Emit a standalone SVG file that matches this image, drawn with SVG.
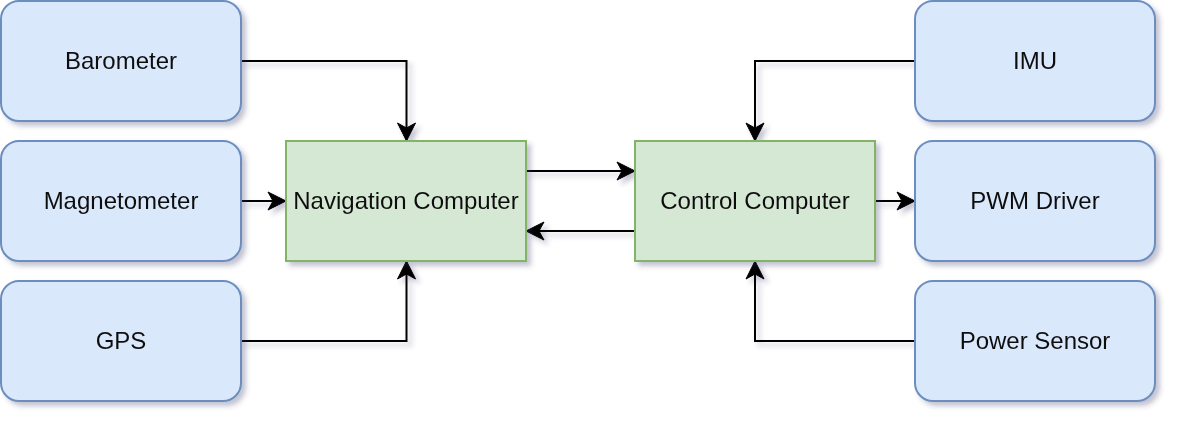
<svg xmlns="http://www.w3.org/2000/svg" width="1178" height="424" viewBox="0 0 1178 424">
<defs>
<filter id="sh" x="-10%" y="-10%" width="125%" height="130%">
<feGaussianBlur in="SourceAlpha" stdDeviation="2.5"/>
<feOffset dx="4" dy="4" result="b"/>
<feFlood flood-color="#3b3b6b" flood-opacity="0.3"/>
<feComposite in2="b" operator="in"/>
<feMerge><feMergeNode/><feMergeNode in="SourceGraphic"/></feMerge>
</filter>
<marker id="ar" viewBox="0 0 20 20" refX="19" refY="10" markerWidth="20" markerHeight="20" markerUnits="userSpaceOnUse" orient="auto">
<path d="M1,1 L19,10 L1,19 L6,10 Z" fill="#000" stroke="#000" stroke-width="1"/>
</marker>
</defs>
<style>
.s{fill:#dae8fc;stroke:#6c8ebf;stroke-width:2}
.c{fill:#d5e8d4;stroke:#82b366;stroke-width:2}
.t{font-family:"Liberation Sans",Arial,sans-serif;font-size:24px;fill:#111;text-anchor:middle;dominant-baseline:central}
.e{fill:none;stroke:#000;stroke-width:2;marker-end:url(#ar)}
</style>
<g id="connectors" filter="url(#sh)">
<path class="e" d="M241,61 H406.5 V141"/>
<path class="e" d="M241,201 H286"/>
<path class="e" d="M241,341 H406.5 V261"/>
<path class="e" d="M526,171 H635"/>
<path class="e" d="M635,231 H526"/>
<path class="e" d="M915,61 H755 V141"/>
<path class="e" d="M875,201 H915"/>
<path class="e" d="M915,341 H755 V261"/>
</g>
<g id="barometer" filter="url(#sh)"><rect class="s" x="1" y="1" width="240" height="120" rx="18"/><text class="t" x="121" y="60">Barometer</text></g>
<g id="magnetometer" filter="url(#sh)"><rect class="s" x="1" y="141" width="240" height="120" rx="18"/><text class="t" x="121" y="200">Magnetometer</text></g>
<g id="gps" filter="url(#sh)"><rect class="s" x="1" y="281" width="240" height="120" rx="18"/><text class="t" x="121" y="340">GPS</text></g>
<g id="nav" filter="url(#sh)"><rect class="c" x="286" y="141" width="240" height="120"/><text class="t" x="406" y="200">Navigation Computer</text></g>
<g id="control" filter="url(#sh)"><rect class="c" x="635" y="141" width="240" height="120"/><text class="t" x="755" y="200">Control Computer</text></g>
<g id="imu" filter="url(#sh)"><rect class="s" x="915" y="1" width="240" height="120" rx="18"/><text class="t" x="1035" y="60">IMU</text></g>
<g id="pwm" filter="url(#sh)"><rect class="s" x="915" y="141" width="240" height="120" rx="18"/><text class="t" x="1035" y="200">PWM Driver</text></g>
<g id="power" filter="url(#sh)"><rect class="s" x="915" y="281" width="240" height="120" rx="18"/><text class="t" x="1035" y="340">Power Sensor</text></g>
</svg>
